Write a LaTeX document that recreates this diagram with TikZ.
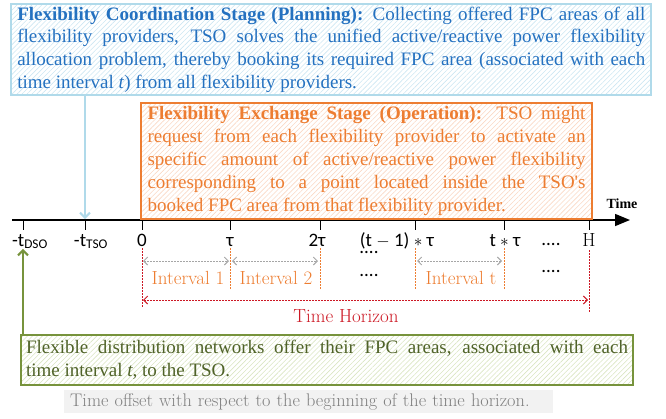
\documentclass[tikz,border=0pt]{standalone}
\usepackage{fontspec}
\newfontfamily\tnr{Liberation Serif}
\newfontfamily\calib{Carlito}
\usetikzlibrary{arrows.meta,patterns.meta}

\definecolor{stageblue}{RGB}{36,113,192}
\definecolor{bluerule}{RGB}{176,218,234}
\definecolor{bluehatch}{RGB}{204,230,242}
\definecolor{stageorange}{RGB}{237,125,49}
\definecolor{orangehatch}{RGB}{249,216,196}
\definecolor{offergreen}{RGB}{119,147,60}
\definecolor{offertext}{RGB}{79,98,40}
\definecolor{greenhatch}{RGB}{218,229,194}
\definecolor{spanred}{RGB}{204,24,36}
\definecolor{spangray}{RGB}{166,166,166}
\definecolor{notegray}{RGB}{128,128,128}
\definecolor{notebg}{RGB}{242,242,242}

% one fully justified line of a stage description
\newcommand\jl[1]{\makebox[\linewidth][s]{\strut#1}}

\begin{document}
\begin{tikzpicture}[x=1pt,y=-1pt,
  stagebox/.style={draw, line width=2pt, anchor=north west, inner ysep=0pt,
    align=justify, font=\tnr\fontsize{19}{23}\selectfont},
  hatch/.style={pattern={Lines[angle=45,distance=3.5pt,line width=0.6pt]},
    pattern color=#1},
  ticklabel/.style={font=\calib\fontsize{19}{22}\selectfont, anchor=base, inner sep=0pt},
  dots/.style={font=\calib\fontsize{19}{22}\selectfont, anchor=base, inner sep=0pt},
  intlabel/.style={font=\fontsize{19}{22}\selectfont, text=stageorange, anchor=base, inner sep=0pt},
  vdot/.style={line width=1pt, dash pattern=on 1.5pt off 1.5pt},
  span/.style={line width=1pt, dash pattern=on 1.5pt off 1.5pt,
    {Straight Barb[length=4pt,width=8pt]}-{Straight Barb[length=4pt,width=8pt]}},
  pointer/.style={line width=2pt, -{Straight Barb[length=5pt,width=10pt]}}]

\useasboundingbox (0,0) rectangle (666,418);

% time axis
\coordinate (axisL) at (12,220);
\coordinate (axisR) at (630,220);
\draw[line width=1.5pt, -{Triangle[length=15pt,width=12pt]}] (axisL) -- (axisR);
\node[font=\tnr\bfseries\fontsize{14}{16}\selectfont, anchor=base, inner sep=0pt]
  (timelbl) at (622,208) {Time};

% tick marks
\foreach \n/\x in {dso/23,tso/85,t0/142,t1/230,t2/320,tm/415,tt/504,tH/589}{
  \coordinate (\n) at (\x,220);
  \draw[line width=1pt] (\n) -- ++(0,10);
}

% planning stage
\node[stagebox, draw=bluerule, hatch=bluehatch, text=stageblue,
  text width=628pt, inner xsep=6pt, minimum height=88pt,
  font=\tnr\fontsize{19}{22.7}\selectfont] (plan) at (11,4) {%
  \jl{\textbf{Flexibility Coordination Stage (Planning):} Collecting offered FPC areas of all}\\
  \jl{flexibility providers, TSO solves the unified active/reactive power flexibility}\\
  \jl{allocation problem, thereby booking its required FPC area (associated with each}\\
  \strut time interval \textit{t}) from all flexibility providers.\strut};

% operation stage
\node[stagebox, draw=stageorange, hatch=orangehatch, text=stageorange,
  text width=438pt, inner xsep=6.5pt, minimum height=116pt] (oper) at (140,102) {%
  \jl{\textbf{Flexibility Exchange Stage (Operation):} TSO might}\\
  \jl{request from each flexibility provider to activate an}\\
  \jl{specific amount of active/reactive power flexibility}\\
  \jl{corresponding to a point located inside the TSO's}\\
  \strut booked FPC area from that flexibility provider.\strut};

% tick labels
\node[ticklabel] (lDSO) at (30,246) {-t\textsubscript{DSO}};
\node[ticklabel] (lTSO) at (91,246) {-t\textsubscript{TSO}};
\node[ticklabel] (l0) at (142,246) {0};
\node[ticklabel] (l1) at (230,246) {τ};
\node[ticklabel] (l2) at (317,246) {2τ};
\node[ticklabel] (ltm) at (397,246) {(t $-$ 1) $\ast$ τ};
\node[ticklabel] (ltt) at (505,246) {t $\ast$ τ};
\node[ticklabel, font=\fontsize{19}{22}\selectfont] (lH) at (589,246) {H};

\node[dots] (d1) at (369,253) {....};
\node[dots] (d2) at (369,276) {....};
\node[dots] (d3) at (551,245) {....};
\node[dots] (d4) at (551,272) {....};

% interval boundaries
\draw[vdot, spanred] (t0) ++(0,28) -- ++(0,59);
\draw[vdot, spanred] (tH) ++(0,30) -- ++(0,63);
\foreach \n in {t1,t2,tm,tt}
  \draw[vdot, stageorange] (\n) ++(0,28) -- ++(0,42);

% interval spans
\draw[span, spangray] ([xshift=1pt,yshift=-41pt]t0) -- ([xshift=-1pt,yshift=-41pt]t1);
\draw[span, spangray] ([xshift=2pt,yshift=-41pt]t1) -- ([xshift=-2pt,yshift=-41pt]t2);
\draw[span, spangray] ([xshift=2pt,yshift=-41pt]tm) -- ([xshift=-2pt,yshift=-41pt]tt);
\node[intlabel] (int1) at (188,284) {Interval 1};
\node[intlabel] (int2) at (276,284) {Interval 2};
\node[intlabel] (intt) at (461,284) {Interval t};

% time horizon
\draw[span, spanred] ([xshift=1pt,yshift=-80pt]t0) -- ([xshift=-1pt,yshift=-80pt]tH);
\node[font=\fontsize{19}{22}\selectfont, text=spanred, anchor=base, inner sep=0pt]
  (horizon) at (346,322) {Time Horizon};

% offer stage
\node[stagebox, draw=offergreen, hatch=greenhatch, text=offertext,
  text width=602pt, inner xsep=5pt, minimum height=50pt] (offer) at (20,334) {%
  \jl{Flexible distribution networks offer their FPC areas, associated with each}\\
  \strut time interval \textit{t}, to the TSO.\strut};

% stage pointers
\draw[pointer, bluerule] (plan.south -| tso) -- ([yshift=1pt]tso);
\draw[pointer, offergreen] (offer.north -| dso) -- (lDSO.south -| dso);

% note
\node[anchor=north west, fill=notebg, text=notegray, font=\fontsize{18.3}{21}\selectfont,
  text width=477pt, inner xsep=6pt, minimum height=22pt, align=left] (note) at (64,390)
  {Time offset with respect to the beginning of the time horizon.};
\end{tikzpicture}
\end{document}
